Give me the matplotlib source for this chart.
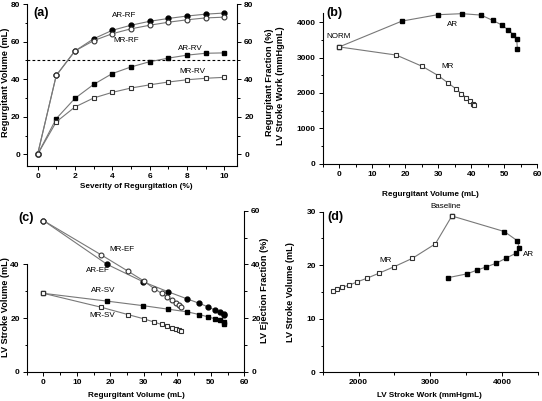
import matplotlib
matplotlib.use("Agg")
import matplotlib.pyplot as plt
from matplotlib.ticker import MultipleLocator

plt.rcParams['font.family'] = ['Liberation Sans', 'DejaVu Sans']

# ---- data ----
severity = [0, 1, 2, 3, 4, 5, 6, 7, 8, 9, 10]
ar_rv = [0, 19, 29.8, 37.2, 43, 46.5, 49.3, 51.2, 52.8, 53.8, 54]
mr_rv = [0, 17.3, 25.2, 30, 33, 35.3, 37, 38.5, 39.7, 40.5, 41]
ar_rf = [0, 42, 55, 61.5, 66, 68.7, 70.8, 72.3, 73.6, 74.6, 75.2]
mr_rf = [0, 42, 55, 60.5, 64.2, 66.8, 68.7, 70.3, 71.6, 72.6, 73]
ar_sw = [3300, 4030, 4210, 4240, 4200, 4050, 3920, 3780, 3650, 3510, 3250]
mr_sw = [3300, 3070, 2750, 2490, 2280, 2120, 1980, 1870, 1770, 1700, 1650]
ar_sv = [29.2, 26.3, 24.6, 23.3, 22.3, 21.3, 20.4, 19.7, 19.1, 18.4, 17.7]
mr_sv = [29.2, 24.0, 21.3, 19.7, 18.5, 17.6, 16.9, 16.3, 15.9, 15.5, 15.2]
ar_ef = [56.3, 40.0, 33.5, 29.8, 27.1, 25.5, 24.1, 23.0, 22.1, 21.5, 21.1]
mr_ef = [56.3, 43.5, 37.5, 33.8, 31.0, 29.2, 27.7, 26.7, 25.7, 25.0, 24.0]

LC = '#787878'
LW = 0.8
MS = 3.5
TFS = 6
XLFS = 5.9
YLFS = 6.6
AFS = 5.8
PFS = 9

fig = plt.figure(figsize=(5.42, 4.01), dpi=100)


def style(ax, sides=('left', 'bottom')):
    for s in ['left', 'right', 'top', 'bottom']:
        ax.spines[s].set_visible(s in sides)
        ax.spines[s].set_linewidth(0.8)
    ax.tick_params(which='both', direction='out', width=0.7, labelsize=TFS, pad=2)
    ax.tick_params(which='major', length=3)
    ax.tick_params(which='minor', length=1.8)
    for lab in ax.get_xticklabels() + ax.get_yticklabels():
        lab.set_fontweight('bold')


def filled(ax, x, y, m):
    ax.plot(x, y, color=LC, lw=LW, marker=m, ms=MS, mfc='black', mec='black', zorder=3)


def opened(ax, x, y, m):
    ax.plot(x, y, color=LC, lw=LW, marker=m, ms=MS, mfc='white', mec='#333333', mew=0.8, zorder=4)


def labels(ax, xl, yl, xpos, ypos):
    ax.set_xlabel(xl, fontsize=XLFS, fontweight='bold')
    ax.set_ylabel(yl, fontsize=YLFS, fontweight='bold')
    ax.xaxis.set_label_coords(*xpos)
    ax.yaxis.set_label_coords(*ypos)


# ---- (a) ----
axa = fig.add_axes([0.0504, 0.5868, 0.3874, 0.4032])
axa.set_xlim(-0.55, 10.7)
axa.set_ylim(-6, 80)
axa.axhline(50, color='black', lw=0.8, ls=(0, (2.5, 2)), zorder=1)
filled(axa, severity, ar_rv, 's')
opened(axa, severity, mr_rv, 's')
axa2 = axa.twinx()
axa2.set_ylim(-6, 80)
filled(axa2, severity, ar_rf, 'o')
opened(axa2, severity, mr_rf, 'o')
axa.xaxis.set_major_locator(MultipleLocator(2))
axa.xaxis.set_minor_locator(MultipleLocator(1))
for a in (axa, axa2):
    a.yaxis.set_major_locator(MultipleLocator(20))
    a.yaxis.set_minor_locator(MultipleLocator(10))
style(axa)
style(axa2, sides=('right',))
labels(axa, 'Severity of Regurgitation (%)', 'Regurgitant Volume (mL)', (0.517, -0.105), (-0.082, 0.515))
axa2.set_ylabel('Regurgitant Fraction (%)', fontsize=YLFS, fontweight='bold')
axa2.yaxis.set_label_coords(1.132, 0.515)
axa2.text(4.64, 74.1, 'AR-RF', fontsize=AFS, ha='center', va='center')
axa2.text(4.73, 60.8, 'MR-RF', fontsize=AFS, ha='center', va='center')
axa.text(8.17, 56.2, 'AR-RV', fontsize=AFS, ha='center', va='center')
axa.text(8.3, 44.3, 'MR-RV', fontsize=AFS, ha='center', va='center')
axa.text(0.067, 0.947, '(a)', transform=axa.transAxes, fontsize=PFS, fontweight='bold',
         ha='center', va='center')

# ---- (b) ----
axb = fig.add_axes([0.5954, 0.5918, 0.3957, 0.375])
axb.set_xlim(-5, 60)
axb.set_ylim(0, 4250)
filled(axb, ar_rv, ar_sw, 's')
opened(axb, mr_rv, mr_sw, 's')
for l in axb.get_lines():
    l.set_clip_on(False)
axb.xaxis.set_major_locator(MultipleLocator(10))
axb.xaxis.set_minor_locator(MultipleLocator(5))
axb.yaxis.set_major_locator(MultipleLocator(1000))
axb.yaxis.set_minor_locator(MultipleLocator(500))
style(axb)
labels(axb, 'Regurgitant Volume (mL)', 'LV Stroke Work (mmHgmL)', (0.501, -0.18), (-0.176, 0.518))
axb.text(-0.3, 3587, 'NORM', fontsize=AFS, ha='center', va='center')
axb.text(34.5, 3946, 'AR', fontsize=AFS, ha='center', va='center')
axb.text(32.7, 2760, 'MR', fontsize=AFS, ha='center', va='center')
axb.text(0.054, 1.0, '(b)', transform=axb.transAxes, fontsize=PFS, fontweight='bold',
         ha='center', va='center')

# ---- (c) ----
axc = fig.add_axes([0.0493, 0.0731, 0.4014, 0.4015])
axc.set_xlim(-5, 60)
axc.set_ylim(0, 60)
filled(axc, ar_rv, ar_sv, 's')
opened(axc, mr_rv, mr_sv, 's')
axc2 = axc.twinx()
axc2.set_ylim(0, 60)
filled(axc2, ar_rv, ar_ef, 'o')
opened(axc2, mr_rv, mr_ef, 'o')
axc.xaxis.set_major_locator(MultipleLocator(10))
axc.xaxis.set_minor_locator(MultipleLocator(5))
axc.set_yticks([0, 20, 40])
axc.set_yticks([10, 30], minor=True)
axc2.yaxis.set_major_locator(MultipleLocator(20))
axc2.yaxis.set_minor_locator(MultipleLocator(10))
style(axc)
axc.spines['left'].set_bounds(0, 40)
style(axc2, sides=('right',))
labels(axc, 'Regurgitant Volume (mL)', 'LV Stroke Volume (mL)', (0.505, -0.124), (-0.077, 0.404))
axc2.set_ylabel('LV Ejection Fraction (%)', fontsize=YLFS, fontweight='bold')
axc2.yaxis.set_label_coords(1.072, 0.507)
axc2.text(23.5, 45.4, 'MR-EF', fontsize=AFS, ha='center', va='center')
axc2.text(16.2, 37.6, 'AR-EF', fontsize=AFS, ha='center', va='center')
axc.text(18, 30.1, 'AR-SV', fontsize=AFS, ha='center', va='center')
axc.text(17.5, 20.9, 'MR-SV', fontsize=AFS, ha='center', va='center')
axc.text(-0.004, 0.956, '(c)', transform=axc.transAxes, fontsize=PFS, fontweight='bold',
         ha='center', va='center')

# ---- (d) ----
axd = fig.add_axes([0.5954, 0.0711, 0.3972, 0.401])
axd.set_xlim(1500, 4500)
axd.set_ylim(0, 30)
filled(axd, ar_sw, ar_sv, 's')
opened(axd, mr_sw, mr_sv, 's')
for l in axd.get_lines():
    l.set_clip_on(False)
axd.xaxis.set_major_locator(MultipleLocator(1000))
axd.xaxis.set_minor_locator(MultipleLocator(500))
axd.yaxis.set_major_locator(MultipleLocator(10))
axd.yaxis.set_minor_locator(MultipleLocator(5))
style(axd)
labels(axd, 'LV Stroke Work (mmHgmL)', 'LV Stroke Volume (mL)', (0.498, -0.119), (-0.129, 0.502))
axd.text(3214, 30.9, 'Baseline', fontsize=AFS, ha='center', va='center', clip_on=False)
axd.text(2371, 20.95, 'MR', fontsize=AFS, ha='center', va='center')
axd.text(4375, 22.0, 'AR', fontsize=AFS, ha='center', va='center')
axd.text(0.06, 0.964, '(d)', transform=axd.transAxes, fontsize=PFS, fontweight='bold',
         ha='center', va='center')

fig.savefig('out.png', dpi=100)
